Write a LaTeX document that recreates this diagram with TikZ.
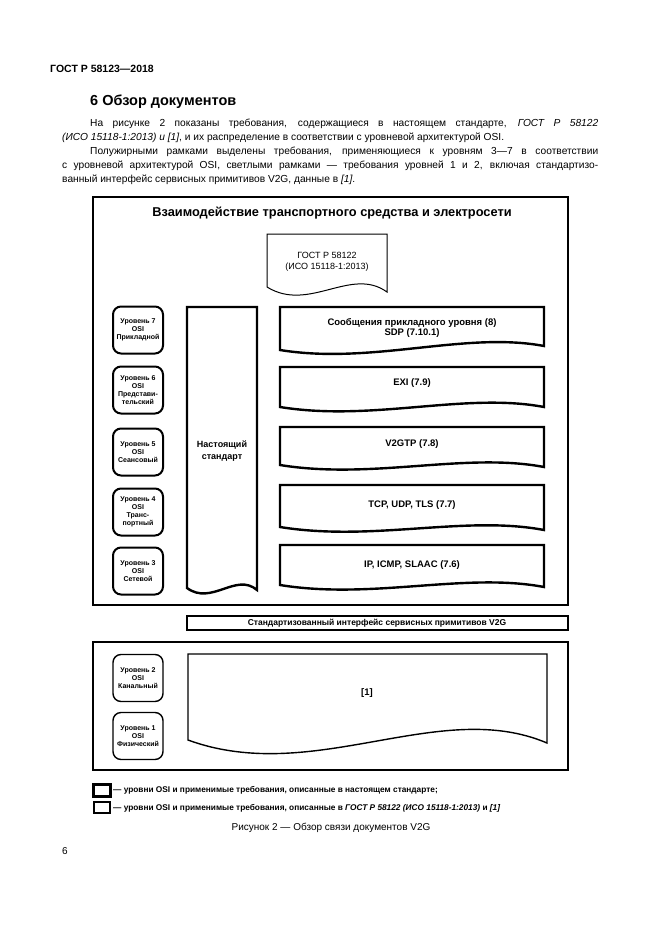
\documentclass[tikz,border=0pt]{standalone}
\usepackage{fontspec}
\setmainfont{Liberation Sans}
\newcommand\wbox[7][]{\draw[#1] (#2,#3) -- (#4,#3) -- (#4,#6) .. controls ({#4-0.3*(#4-#2)},{#6-#7}) and ({#2+0.35*(#4-#2)},{#5+#7}) .. (#2,#5) -- cycle;}
\begin{document}
\begin{tikzpicture}[x=1pt,y=-1pt,
  lvl/.style={draw, line width=2pt, rounded corners=8pt, minimum width=50pt, minimum height=47pt, inner sep=0pt, align=center, font=\bfseries\fontsize{7}{8.2}\selectfont},
  lvlthin/.style={lvl, line width=1.4pt},
  boxtext/.style={align=center, font=\bfseries\fontsize{9.5}{10.5}\selectfont, inner sep=0pt},
  thick box/.style={line width=2.4pt},
  frame/.style={line width=2pt},
  body/.style={anchor=base west, inner sep=0pt, font=\fontsize{10.2}{12}\selectfont},
  legend/.style={anchor=west, inner sep=0pt, font=\bfseries\fontsize{8.3}{9}\selectfont}
]
\useasboundingbox[fill=white] (0,0) rectangle (661,935);

% header
\node[anchor=base west, inner sep=0pt, font=\bfseries\fontsize{10.5}{12}\selectfont] (hdr) at (50,72) {ГОСТ Р 58123—2018};
\node[anchor=base west, inner sep=0pt, font=\bfseries\fontsize{14.5}{16}\selectfont] (sec) at (90,105) {6 Обзор документов};
\node[body] (p1) at (90,126) {\makebox[508pt][s]{На рисунке 2 показаны требования, содержащиеся в настоящем стандарте, \textit{ГОСТ Р 58122}}};
\node[body] (p2) at (62,140) {\textit{(ИСО 15118-1:2013) и [1]}, и их распределение в соответствии с уровневой архитектурой OSI.};
\node[body] (p3) at (90,154) {\makebox[508pt][s]{Полужирными рамками выделены требования, применяющиеся к уровням 3—7 в соответствии}};
\node[body] (p4) at (62,168) {\makebox[536pt][s]{с уровневой архитектурой OSI, светлыми рамками — требования уровней 1 и 2, включая стандартизо-}};
\node[body] (p5) at (62,182) {ванный интерфейс сервисных примитивов V2G, данные в \textit{[1]}.};

% upper frame
\draw[frame] (93,197) rectangle (568,605);
\node[inner sep=0pt, font=\bfseries\fontsize{12.8}{14}\selectfont] (title) at (332,213) {Взаимодействие транспортного средства и электросети};

% GOST document
\wbox[line width=1pt]{267}{234}{387}{287}{292}{26}
\node[align=center, inner sep=0pt, font=\fontsize{9}{10.5}\selectfont] (gost) at (327,262) {ГОСТ Р 58122\\(ИСО 15118-1:2013)};

% left OSI levels
\node[lvl] (l7) at (138,330) {Уровень 7\\OSI\\Прикладной};
\node[lvl] (l6) at (138,390) {Уровень 6\\OSI\\Представи-\\тельский};
\node[lvl] (l5) at (138,452) {Уровень 5\\OSI\\Сеансовый};
\node[lvl] (l4) at (138,512) {Уровень 4\\OSI\\Транс-\\портный};
\node[lvl] (l3) at (138,571) {Уровень 3\\OSI\\Сетевой};

% this standard
\wbox[thick box]{187}{307}{257}{588}{590}{18}
\node[boxtext, font=\bfseries\fontsize{9}{11.5}\selectfont] (std) at (222,451) {Настоящий\\стандарт};

% right boxes
\wbox[thick box]{280}{307}{544}{350}{346}{15}
\node[boxtext] (sdp) at (412,328) {Сообщения прикладного уровня (8)\\SDP (7.10.1)};
\wbox[thick box]{280}{367}{544}{407}{407}{15}
\node[boxtext] (exi) at (412,383) {EXI (7.9)};
\wbox[thick box]{280}{427}{544}{465}{467}{15}
\node[boxtext] (v2gtp) at (412,444) {V2GTP (7.8)};
\wbox[thick box]{280}{485}{544}{527}{530}{15}
\node[boxtext] (tcp) at (412,505) {TCP, UDP, TLS (7.7)};
\wbox[thick box]{280}{545}{544}{585}{587}{15}
\node[boxtext] (ip) at (412,565) {IP, ICMP, SLAAC (7.6)};

% interface
\draw[line width=1.5pt] (187,616) rectangle (568,630);
\node[inner sep=0pt, font=\bfseries\fontsize{8.5}{10}\selectfont] (iface) at (377,623) {Стандартизованный интерфейс сервисных примитивов V2G};

% lower frame
\draw[line width=1.8pt] (93,642) rectangle (568,770);
\node[lvlthin] (l2) at (138,678) {Уровень 2\\OSI\\Канальный};
\node[lvlthin] (l1) at (138,736) {Уровень 1\\OSI\\Физический};
\wbox[line width=1.4pt]{188}{654}{547}{740}{743}{46}
\node[boxtext] (ref1) at (367,693) {[1]};

% legend
\draw[line width=3pt] (93,784) rectangle (110,796);
\node[legend] (lg1) at (113,790) {— уровни OSI и применимые требования, описанные в настоящем стандарте;};
\draw[line width=1.4pt] (94,802) rectangle (110,813);
\node[legend] (lg2) at (113,808) {— уровни OSI и применимые требования, описанные в \textit{ГОСТ Р 58122 (ИСО 15118-1:2013)} и \textit{[1]}};
\node[inner sep=0pt, font=\fontsize{10}{12}\selectfont] (cap) at (331,828) {Рисунок 2 — Обзор связи документов V2G};
\node[inner sep=0pt, font=\fontsize{10}{12}\selectfont] (pg) at (65,851) {6};
\end{tikzpicture}
\end{document}
